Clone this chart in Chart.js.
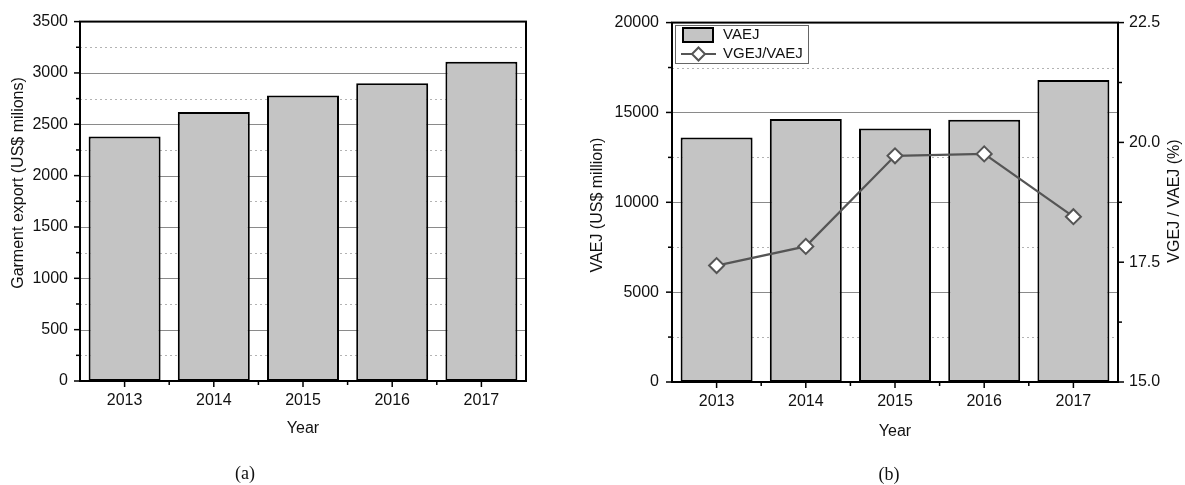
<!DOCTYPE html>
<html>
<head>
<meta charset="utf-8">
<script src="https://cdn.jsdelivr.net/npm/chart.js@4.4.0/dist/chart.umd.min.js"></script>
<style>
  html, body { margin: 0; padding: 0; background: #fff; }
  #wrap { position: relative; width: 1185px; height: 485px; overflow: hidden; }
  #ca { position: absolute; left: 0; top: 0; }
  #cb { position: absolute; left: 560px; top: 0; }
  .cap { position: absolute; font-family: "Liberation Serif", "Times New Roman", serif;
         font-size: 18px; line-height: 1; color: #111; transform: translate(-50%, -50%); }
</style>
</head>
<body>
<div id="wrap">
  <canvas id="ca" width="560" height="485" style="width:560px;height:485px"></canvas>
  <canvas id="cb" width="625" height="485" style="width:625px;height:485px"></canvas>
  <div class="cap" style="left:245px;top:473px">(a)</div>
  <div class="cap" style="left:889px;top:474px">(b)</div>
</div>
<script>
// Years on the category axis
const years = ['2013', '2014', '2015', '2016', '2017'];

// (a) Garment export, US$ millions
const garmentExport = [2380, 2620, 2780, 2900, 3110];

// (b) VAEJ, US$ million, and the VGEJ/VAEJ share in percent
const vaej = [13600, 14630, 14100, 14600, 16800];
const vgejShare = [17.43, 17.83, 19.72, 19.76, 18.45];

const FONT = '"Liberation Sans", Arial, Helvetica, sans-serif';
Chart.defaults.font.family = FONT;
Chart.defaults.font.size = 16;
Chart.defaults.color = '#111';

const BAR_FILL = '#c4c4c4';
const LINE_COL = '#555555';

function strokeLine(ctx, x1, y1, x2, y2) {
  ctx.beginPath(); ctx.moveTo(x1, y1); ctx.lineTo(x2, y2); ctx.stroke();
}

// Grid lines behind the bars, boxed frame, outward major/minor ticks,
// rotated axis titles and an inset legend.
const axisFrame = {
  id: 'axisFrame',
  beforeDatasetsDraw(chart, args, o) {
    const { ctx, chartArea: a } = chart;
    const ys = chart.scales.y;
    const vals = ys.ticks.map(t => t.value);
    ctx.save();
    ctx.lineWidth = 1;
    ctx.strokeStyle = '#8a8a8a';
    for (const v of vals) {
      if (v <= ys.min || v >= ys.max) continue;
      const py = Math.round(ys.getPixelForValue(v)) + 0.5;
      strokeLine(ctx, a.left, py, a.right, py);
    }
    ctx.setLineDash([2, 3]);
    ctx.strokeStyle = '#b3b3b3';
    for (let i = 0; i < vals.length - 1; i++) {
      const py = Math.round(ys.getPixelForValue((vals[i] + vals[i + 1]) / 2)) + 0.5;
      strokeLine(ctx, a.left, py, a.right, py);
    }
    ctx.restore();
  },
  afterDatasetsDraw(chart) {
    const { ctx, chartArea: a } = chart;
    ctx.save();
    ctx.strokeStyle = '#000';
    ctx.lineWidth = 2;
    ctx.strokeRect(a.left, a.top, a.right - a.left, a.bottom - a.top);
    ctx.lineWidth = 1.5;
    const tickY = (scale, side) => {
      const vals = scale.ticks.map(t => t.value);
      const x0 = side === 'left' ? a.left : a.right;
      const dir = side === 'left' ? -1 : 1;
      vals.forEach((v, i) => {
        const py = scale.getPixelForValue(v);
        strokeLine(ctx, x0, py, x0 + dir * 6, py);
        if (i < vals.length - 1) {
          const pm = scale.getPixelForValue((v + vals[i + 1]) / 2);
          strokeLine(ctx, x0, pm, x0 + dir * 4, pm);
        }
      });
    };
    tickY(chart.scales.y, 'left');
    if (chart.scales.y1) tickY(chart.scales.y1, 'right');
    const xs = chart.scales.x;
    const n = chart.data.labels.length;
    for (let i = 0; i < n; i++) {
      const px = xs.getPixelForValue(i);
      strokeLine(ctx, px, a.bottom, px, a.bottom + 6);
      if (i < n - 1) {
        const pm = (px + xs.getPixelForValue(i + 1)) / 2;
        strokeLine(ctx, pm, a.bottom, pm, a.bottom + 4);
      }
    }
    ctx.restore();
  },
  afterDraw(chart, args, o) {
    const { ctx } = chart;
    ctx.save();
    ctx.fillStyle = '#111';
    ctx.font = '16px ' + FONT;
    ctx.textAlign = 'center';
    ctx.textBaseline = 'middle';
    for (const t of (o.titles || [])) {
      ctx.save();
      ctx.translate(t.x, t.y);
      ctx.rotate(-Math.PI / 2);
      ctx.fillText(t.text, 0, 0);
      ctx.restore();
    }
    if (o.legend) {
      const L = o.legend;
      const ds = chart.data.datasets;
      ctx.fillStyle = '#fff';
      ctx.fillRect(L.x, L.y, L.w, L.h);
      ctx.strokeStyle = '#666';
      ctx.lineWidth = 1;
      ctx.strokeRect(L.x + 0.5, L.y + 0.5, L.w - 1, L.h - 1);
      ctx.font = '15px ' + FONT;
      ctx.textAlign = 'left';
      // bar entry
      ctx.fillStyle = ds[0].backgroundColor;
      ctx.fillRect(L.x + 7, L.y + 2, 32, 16);
      ctx.strokeStyle = ds[0].borderColor;
      ctx.lineWidth = 2;
      ctx.strokeRect(L.x + 8, L.y + 3, 30, 14);
      ctx.fillStyle = '#111';
      ctx.fillText(ds[0].label, L.x + 48, L.y + 10);
      // line entry
      const ly = L.y + 29;
      ctx.strokeStyle = ds[1].borderColor;
      ctx.lineWidth = 2;
      strokeLine(ctx, L.x + 6, ly, L.x + 41, ly);
      const cx = L.x + 23.5, r = 6.5;
      ctx.beginPath();
      ctx.moveTo(cx, ly - r); ctx.lineTo(cx + r, ly); ctx.lineTo(cx, ly + r); ctx.lineTo(cx - r, ly);
      ctx.closePath();
      ctx.fillStyle = '#fff';
      ctx.fill();
      ctx.stroke();
      ctx.fillStyle = '#111';
      ctx.fillText(ds[1].label, L.x + 48, ly);
    }
    ctx.restore();
  }
};

const fixWidth = w => s => { s.width = w; };
const fixHeight = h => s => { s.height = h; };
const plainNumber = v => String(v);

// (a) Garment export
new Chart(document.getElementById('ca'), {
  type: 'bar',
  data: {
    labels: years,
    datasets: [{
      label: 'Garment export',
      data: garmentExport,
      backgroundColor: BAR_FILL,
      borderColor: '#000',
      borderWidth: 2,
      borderSkipped: false,
      categoryPercentage: 1,
      barPercentage: 0.807
    }]
  },
  options: {
    responsive: false,
    animation: false,
    events: [],
    layout: { padding: { left: 0, right: 34, top: 18, bottom: 40 } },
    plugins: {
      legend: { display: false },
      tooltip: { enabled: false },
      axisFrame: {
        titles: [{ text: 'Garment export (US$ milions)', x: 19, y: 183 }]
      }
    },
    scales: {
      x: {
        grid: { display: false, drawTicks: false },
        border: { display: false },
        ticks: { padding: 10, font: { size: 16 } },
        title: { display: true, text: 'Year', font: { size: 16 }, padding: { top: 0, bottom: 7 } },
        afterFit: fixHeight(485 - 40 - 381)
      },
      y: {
        min: 0, max: 3500,
        grid: { display: false, drawTicks: false },
        border: { display: false },
        ticks: { stepSize: 500, padding: 12, font: { size: 16 }, callback: plainNumber },
        afterFit: fixWidth(80)
      }
    }
  },
  plugins: [axisFrame]
});

// (b) VAEJ with the VGEJ/VAEJ share on the right axis
new Chart(document.getElementById('cb'), {
  type: 'bar',
  data: {
    labels: years,
    datasets: [{
      type: 'bar',
      label: 'VAEJ',
      data: vaej,
      yAxisID: 'y',
      order: 1,
      backgroundColor: BAR_FILL,
      borderColor: '#000',
      borderWidth: 2,
      borderSkipped: false,
      categoryPercentage: 1,
      barPercentage: 0.807
    }, {
      type: 'line',
      label: 'VGEJ/VAEJ',
      data: vgejShare,
      yAxisID: 'y1',
      order: 0,
      borderColor: LINE_COL,
      borderWidth: 2.2,
      pointStyle: 'rectRot',
      pointRadius: 7.5,
      pointBorderWidth: 2,
      pointBackgroundColor: '#fff',
      pointBorderColor: LINE_COL,
      tension: 0
    }]
  },
  options: {
    responsive: false,
    animation: false,
    events: [],
    layout: { padding: { left: 0, right: 0, top: 20, bottom: 40 } },
    plugins: {
      legend: { display: false },
      tooltip: { enabled: false },
      axisFrame: {
        titles: [
          { text: 'VAEJ (US$ million)', x: 38, y: 205 },
          { text: 'VGEJ / VAEJ (%)', x: 615, y: 201 }
        ],
        legend: { x: 115, y: 25, w: 134, h: 39 }
      }
    },
    scales: {
      x: {
        grid: { display: false, drawTicks: false },
        border: { display: false },
        ticks: { padding: 10, font: { size: 16 } },
        title: { display: true, text: 'Year', font: { size: 16 }, padding: { top: 0, bottom: 4 } },
        afterFit: fixHeight(485 - 40 - 382)
      },
      y: {
        position: 'left',
        min: 0, max: 20000,
        grid: { display: false, drawTicks: false },
        border: { display: false },
        ticks: { stepSize: 5000, padding: 13, font: { size: 16 }, callback: plainNumber },
        afterFit: fixWidth(112)
      },
      y1: {
        position: 'right',
        min: 15, max: 22.5,
        grid: { display: false, drawTicks: false },
        border: { display: false },
        ticks: { stepSize: 2.5, padding: 11, font: { size: 16 }, callback: v => v.toFixed(1) },
        afterFit: fixWidth(67)
      }
    }
  },
  plugins: [axisFrame]
});
</script>
</body>
</html>
